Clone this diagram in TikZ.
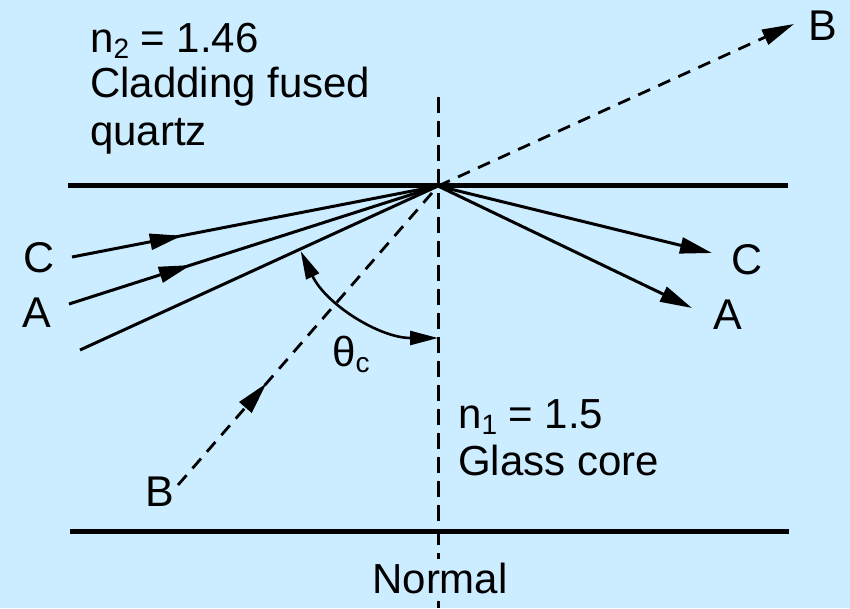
\documentclass[tikz,border=0pt]{standalone}
\usepackage{fontspec}
\setmainfont{Liberation Sans}
\usepackage{tikz}
\usetikzlibrary{arrows.meta, decorations.markings}
\definecolor{fbBack}{HTML}{CCECFF}
\newcommand{\lowidx}[1]{\raisebox{-0.16em}{\fontsize{28}{28}\selectfont #1}}

\begin{document}
\begin{tikzpicture}[
  x=1pt, y=-1pt,
  wall/.style={line width=5pt},
  ray/.style={line width=3pt},
  normline/.style={line width=3pt, dash pattern=on 16pt off 8pt},
  dashray/.style={line width=2.8pt, dash pattern=on 13pt off 9pt},
  tip/.style={-{Triangle[length=32pt,width=16pt]}},
  midtip/.style={postaction={decorate}, decoration={markings,
      mark=at position #1 with {\arrow{Triangle[length=32pt,width=16pt]}}}},
  lbl/.style={font=\fontsize{42}{46}\selectfont, inner sep=0pt},
  tag/.style={font=\fontsize{43}{46}\selectfont, inner sep=0pt},
]
  \fill[fbBack] (0,0) rectangle (850,608);
  \useasboundingbox (0,0) rectangle (850,608);

  % WALLS AND NORMAL
  \coordinate (O) at (438,186);
  \coordinate (topL) at (68,185);
  \coordinate (topR) at (788,185);
  \coordinate (botL) at (70,531);
  \coordinate (botR) at (789,531);
  \coordinate (normT) at (438,97);
  \coordinate (normB) at (438,608);
  \draw[wall] (topL) -- (topR);
  \draw[wall] (botL) -- (botR);
  \draw[normline] (normT) -- (normB);

  % INCIDENT RAYS
  \coordinate (cIn) at (72,257);
  \coordinate (aIn) at (69,304);
  \coordinate (critIn) at (80,350);
  \coordinate (bIn) at (178,485);
  \draw[ray, midtip=0.3] (cIn) -- (O);
  \draw[ray, midtip=0.33] (aIn) -- (O);
  \draw[ray] (critIn) -- (O);
  \draw[dashray, midtip=0.34] (bIn) -- (O);

  % REFLECTED AND REFRACTED RAYS
  \coordinate (cOut) at (712,253);
  \coordinate (aOut) at (692,308);
  \coordinate (bOut) at (794,24);
  \draw[ray, tip] (O) -- (cOut);
  \draw[ray, tip] (O) -- (aOut);
  \draw[dashray, tip] (O) -- (bOut);

  % CRITICAL ANGLE
  \draw[line width=2.6pt, {Triangle[length=28pt,width=14pt]}-{Triangle[length=28pt,width=14pt]}]
    ([shift={(154.6:152)}]O) arc[start angle=154.6, end angle=90, radius=152];
  \node[lbl, anchor=base west] (theta) at (332,366) {θ\lowidx{c}};

  % RAY LABELS
  \node[tag] (cInLab) at (39,258) {C};
  \node[tag] (aInLab) at (37,313) {A};
  \node[tag] (bInLab) at (160,492) {B};
  \node[tag] (cOutLab) at (747,260) {C};
  \node[tag] (aOutLab) at (728,315) {A};
  \node[tag] (bOutLab) at (823,26) {B};

  % MEDIA
  \node[lbl, anchor=base west] (cladN) at (90,52) {n\lowidx{2} = 1.46};
  \node[lbl, anchor=base west] (cladA) at (90,97) {Cladding fused};
  \node[lbl, anchor=base west] (cladB) at (90,145) {quartz};
  \node[lbl, anchor=base west] (coreN) at (458,428) {n\lowidx{1} = 1.5};
  \node[lbl, anchor=base west] (coreA) at (458,475) {Glass core};
  \node[lbl, anchor=base, fill=fbBack, inner ysep=4pt] (normLab) at (440,593) {Normal};
\end{tikzpicture}
\end{document}
